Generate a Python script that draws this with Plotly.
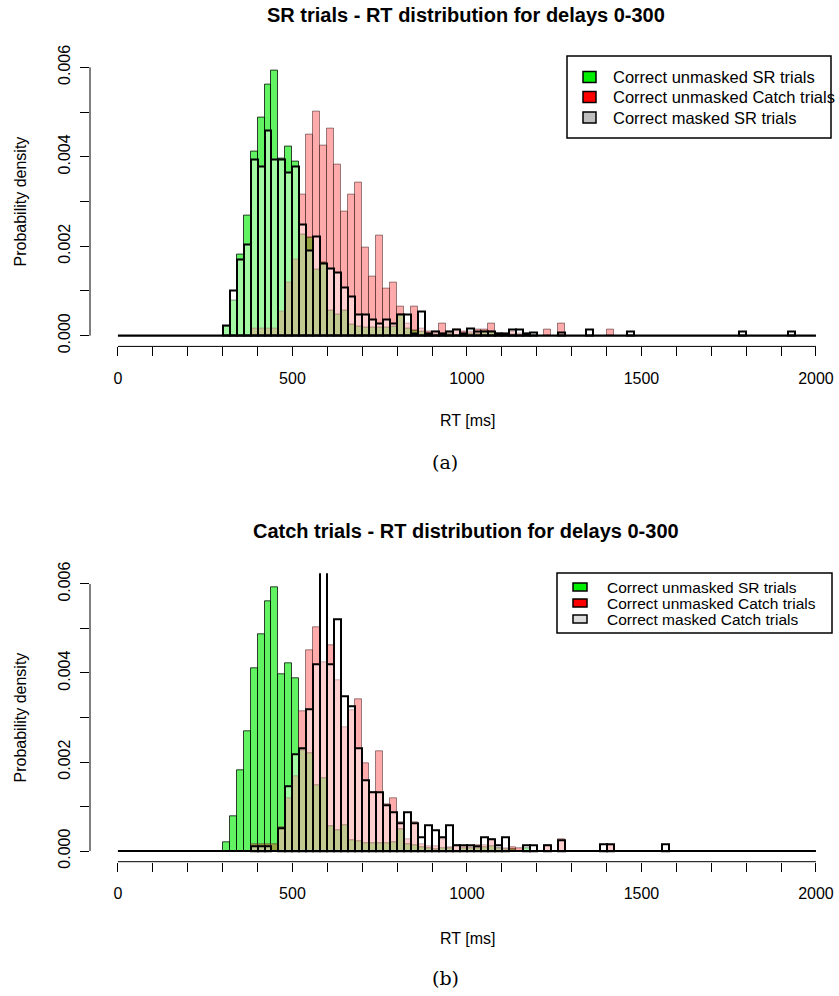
import plotly.graph_objects as go

# Histogram bins: 20 ms wide, first bin starts at 300 ms
BIN_WIDTH = 20
BIN_FIRST = 300

# Densities per bin (x 1e-3), bins 300-320, 320-340, ... up to 1920-1940
unmasked_sr = [
    0.20, 0.78, 1.81, 2.68, 4.11, 4.88, 5.62, 5.92, 3.96, 4.22,
    3.89, 2.26, 2.19, 1.48, 1.63, 0.55, 0.47, 0.57, 0.25, 0.21,
    0.18, 0.17, 0.18, 0.17, 0.20, 0.48, 0.15, 0.12, 0.08, 0.05,
    0.03, 0.05, 0.05, 0.00, 0.05, 0.05, 0.05, 0.08, 0.10, 0.05,
    0.03, 0.03, 0.00, 0.05, 0.00, 0.00, 0.00, 0.00, 0.00, 0.00,
]
unmasked_catch = [
    0.00, 0.00, 0.00, 0.00, 0.15, 0.15, 0.15, 0.15, 0.53, 1.18,
    1.69, 3.15, 4.50, 5.02, 4.24, 4.62, 3.83, 2.78, 3.16, 3.42,
    1.98, 1.31, 2.24, 1.05, 1.18, 0.64, 0.27, 0.64, 0.15, 0.10,
    0.10, 0.27, 0.08, 0.13, 0.10, 0.08, 0.13, 0.13, 0.27, 0.05,
    0.05, 0.08, 0.05, 0.00, 0.00, 0.00, 0.13, 0.00, 0.27, 0.00,
    0.00, 0.00, 0.00, 0.00, 0.00, 0.13, 0.00, 0.00, 0.00, 0.00,
]
masked_sr = [
    0.22, 1.01, 1.69, 2.04, 3.94, 3.79, 4.59, 3.94, 3.94, 3.64,
    3.79, 2.49, 1.91, 2.22, 1.61, 1.49, 1.42, 1.08, 0.88, 0.46,
    0.46, 0.35, 0.27, 0.35, 0.27, 0.46, 0.46, 0.04, 0.54, 0.05,
    0.10, 0.05, 0.08, 0.13, 0.05, 0.15, 0.08, 0.08, 0.10, 0.05,
    0.05, 0.13, 0.13, 0.05, 0.06, 0.00, 0.00, 0.00, 0.06, 0.00,
    0.00, 0.00, 0.13, 0.00, 0.00, 0.00, 0.00, 0.00, 0.08, 0.00,
    0.00, 0.00, 0.00, 0.00, 0.00, 0.00, 0.00, 0.00, 0.00, 0.00,
    0.00, 0.00, 0.00, 0.00, 0.08, 0.00, 0.00, 0.00, 0.00, 0.00,
    0.00, 0.08,
]
masked_catch = [
    0.00, 0.00, 0.00, 0.00, 0.11, 0.11, 0.11, 0.00, 0.52, 1.45,
    2.17, 2.31, 3.19, 4.20, 6.80, 4.20, 5.21, 3.48, 3.25, 2.31,
    1.60, 1.32, 1.32, 1.03, 0.87, 0.62, 0.87, 0.62, 0.30, 0.58,
    0.46, 0.30, 0.58, 0.13, 0.13, 0.13, 0.10, 0.30, 0.26, 0.13,
    0.30, 0.00, 0.00, 0.13, 0.13, 0.00, 0.13, 0.00, 0.25, 0.00,
    0.00, 0.00, 0.00, 0.00, 0.16, 0.16, 0.00, 0.00, 0.00, 0.00,
    0.00, 0.00, 0.00, 0.16,
]

x_ticks = [0, 100, 200, 300, 400, 500, 600, 700, 800, 900, 1000,
           1100, 1200, 1300, 1400, 1500, 1600, 1700, 1800, 1900, 2000]
x_tick_text = ["0", "", "", "", "", "500", "", "", "", "", "1000",
               "", "", "", "", "1500", "", "", "", "", "2000"]
y_ticks = [0, 0.001, 0.002, 0.003, 0.004, 0.005, 0.006]
y_tick_text = ["0.000", "", "0.002", "", "0.004", "", "0.006"]

titles = ["SR trials - RT distribution for delays 0-300",
          "Catch trials - RT distribution for delays 0-300"]
legend_labels = [
    ["Correct unmasked SR trials", "Correct unmasked Catch trials", "Correct masked SR trials"],
    ["Correct unmasked SR trials", "Correct unmasked Catch trials", "Correct masked Catch trials"],
]
captions = ["(a)", "(b)"]

W, H = 839, 996
ML = 90
X_RANGE = [-80, 2066]
Y_RANGE = [-0.00024, 0.00624]
SANS = "Liberation Sans, Arial, sans-serif"

GREEN_FILL = "rgba(0,235,0,0.62)"
RED_FILL = "rgba(255,0,0,0.33)"
MASK_FILL = "rgba(255,255,255,0.42)"


def bars(values):
    xs, ys = [], []
    for i, v in enumerate(values):
        if v > 0:
            xs.append(BIN_FIRST + i * BIN_WIDTH)
            ys.append(v * 1e-3)
    return xs, ys


def px(x):
    return (x - ML) / (W - ML)


def py(y):
    return 1 - y / H


def xdom(v):
    return (v - X_RANGE[0]) / (X_RANGE[1] - X_RANGE[0])


def ydom(v):
    return (v - Y_RANGE[0]) / (Y_RANGE[1] - Y_RANGE[0])


fig = go.Figure()

panels = [
    dict(masked=masked_sr, xa="x", ya="y", top=56.6, bottom=346.4),
    dict(masked=masked_catch, xa="x2", ya="y2", top=573.3, bottom=861.7),
]

for p in panels:
    gx, gy = bars(unmasked_sr)
    fig.add_trace(go.Bar(x=gx, y=gy, width=BIN_WIDTH, offset=0,
                         marker=dict(color=GREEN_FILL, line=dict(color="rgba(0,0,0,0.75)", width=1)),
                         xaxis=p["xa"], yaxis=p["ya"], showlegend=False, hoverinfo="skip"))
    rx, ry = bars(unmasked_catch)
    fig.add_trace(go.Bar(x=rx, y=ry, width=BIN_WIDTH, offset=0,
                         marker=dict(color=RED_FILL, line=dict(color="rgba(70,40,40,0.55)", width=1)),
                         xaxis=p["xa"], yaxis=p["ya"], showlegend=False, hoverinfo="skip"))
    mx, my = bars(p["masked"])
    fig.add_trace(go.Bar(x=mx, y=my, width=BIN_WIDTH, offset=0,
                         marker=dict(color=MASK_FILL, line=dict(color="black", width=2)),
                         xaxis=p["xa"], yaxis=p["ya"], showlegend=False, hoverinfo="skip"))
    # zero-density bins of the masked histogram show as a baseline
    fig.add_trace(go.Scatter(x=[0, 2000], y=[0, 0], mode="lines",
                             line=dict(color="black", width=2.2),
                             xaxis=p["xa"], yaxis=p["ya"], showlegend=False, hoverinfo="skip"))

axis_common = dict(range=X_RANGE, showgrid=False, zeroline=False, showline=False,
                   automargin=False,
                   tickmode="array", tickvals=x_ticks, ticktext=x_tick_text,
                   ticks="outside", ticklen=9, tickwidth=1, tickcolor="black",
                   tickfont=dict(family=SANS, size=16, color="black"),
                   ticklabelstandoff=8)
yaxis_common = dict(range=Y_RANGE, showgrid=False, zeroline=False, showline=False,
                    automargin=False,
                    tickmode="array", tickvals=y_ticks, ticktext=y_tick_text,
                    ticks="outside", ticklen=9, tickwidth=1, tickcolor="black",
                    tickangle=-90, tickfont=dict(family=SANS, size=16, color="black"),
                    ticklabelstandoff=4)

fig.update_layout(
    width=W, height=H,
    margin=dict(l=ML, r=0, t=0, b=0, autoexpand=False),
    paper_bgcolor="white", plot_bgcolor="white",
    barmode="overlay", bargap=0,
    xaxis=dict(axis_common, domain=[0, 1], anchor="y"),
    yaxis=dict(yaxis_common, domain=[py(346.4), py(56.6)], anchor="x"),
    xaxis2=dict(axis_common, domain=[0, 1], anchor="y2"),
    yaxis2=dict(yaxis_common, domain=[py(861.7), py(573.3)], anchor="x2"),
)

shapes = []
annotations = []

title_y = [15, 531]
xlabel_y = [421, 938]
caption_y = [462, 978]
legend_boxes = [
    dict(x0=567, x1=831, y0=56, y1=138, rows=[77, 97, 117.5], sq_x=583, sq_w=13, sq_h=11,
         text_x=611, font=16.5),
    dict(x0=557, x1=832, y0=573, y1=633, rows=[587, 603, 619], sq_x=573, sq_w=14, sq_h=8,
         text_x=605, font=15.5),
]
legend_colors = [["#00ee00", "#ff0000", "#bebebe"], ["#00ee00", "#ff0000", "#dcdcdc"]]

for i, p in enumerate(panels):
    ysuf = "" if i == 0 else "2"
    # R-style axis lines spanning only the labelled range
    shapes.append(dict(type="line", xref="x" + ysuf + " domain", yref="y" + ysuf + " domain",
                       x0=xdom(0), x1=xdom(2000), y0=0, y1=0,
                       line=dict(color="black", width=1)))
    shapes.append(dict(type="line", xref="x" + ysuf + " domain", yref="y" + ysuf + " domain",
                       x0=0, x1=0, y0=ydom(0), y1=ydom(0.006),
                       line=dict(color="black", width=1)))
    annotations.append(dict(text="<b>" + titles[i] + "</b>", xref="paper", yref="paper",
                            x=px(466), y=py(title_y[i]), showarrow=False,
                            font=dict(family=SANS, size=20, color="black"),
                            xanchor="center", yanchor="middle"))
    annotations.append(dict(text="RT [ms]", xref="paper", yref="paper",
                            x=px(467), y=py(xlabel_y[i]), showarrow=False,
                            font=dict(family=SANS, size=16, color="black"),
                            xanchor="center", yanchor="middle"))
    annotations.append(dict(text="Probability density", xref="paper", yref="paper",
                            x=px(20), y=py((p["top"] + p["bottom"]) / 2),
                            showarrow=False, textangle=-90,
                            font=dict(family=SANS, size=16, color="black"),
                            xanchor="center", yanchor="middle"))
    annotations.append(dict(text=captions[i], xref="paper", yref="paper",
                            x=px(445), y=py(caption_y[i]), showarrow=False,
                            font=dict(family="DejaVu Serif, serif", size=19, color="black"),
                            xanchor="center", yanchor="middle"))
    lb = legend_boxes[i]
    shapes.append(dict(type="rect", xref="paper", yref="paper",
                       x0=px(lb["x0"]), x1=px(lb["x1"]), y0=py(lb["y1"]), y1=py(lb["y0"]),
                       line=dict(color="black", width=1.5), fillcolor="white"))
    for j, label in enumerate(legend_labels[i]):
        cy = lb["rows"][j]
        shapes.append(dict(type="rect", xref="paper", yref="paper",
                           x0=px(lb["sq_x"]), x1=px(lb["sq_x"] + lb["sq_w"]),
                           y0=py(cy + lb["sq_h"] / 2), y1=py(cy - lb["sq_h"] / 2),
                           line=dict(color="black", width=1.5), fillcolor=legend_colors[i][j]))
        annotations.append(dict(text=label, xref="paper", yref="paper",
                                x=px(lb["text_x"]), y=py(cy), showarrow=False,
                                font=dict(family=SANS, size=lb["font"], color="black"),
                                xanchor="left", yanchor="middle"))

fig.update_layout(shapes=shapes, annotations=annotations)
fig.write_html("out.html")
